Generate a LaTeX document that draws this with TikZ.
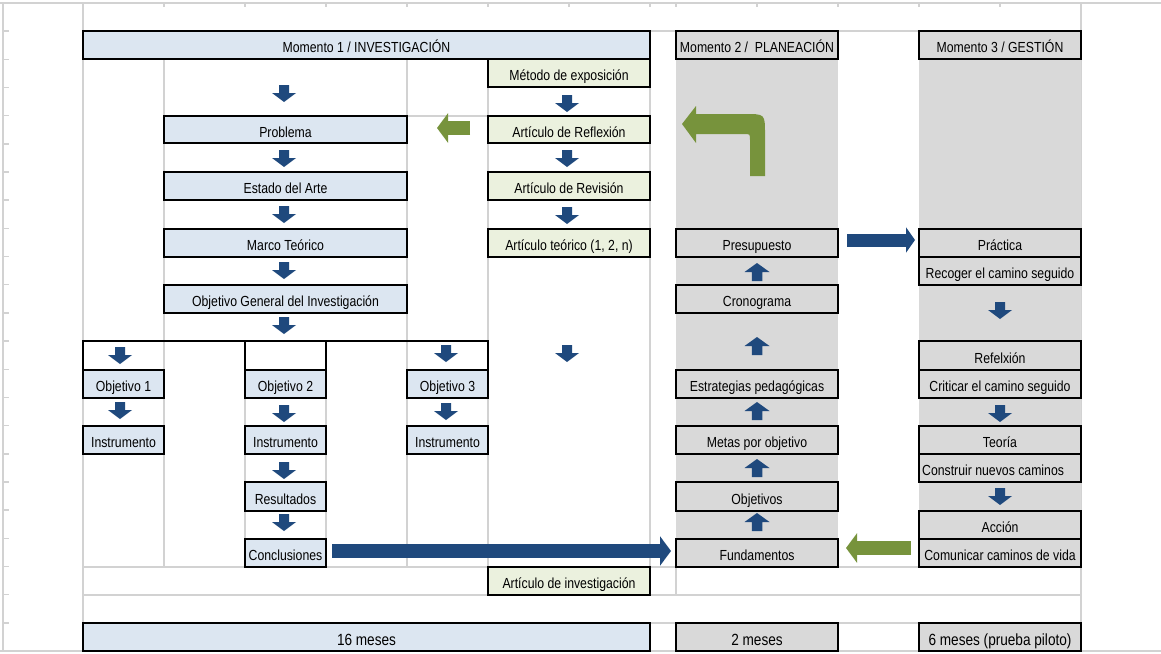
\documentclass[tikz,border=0pt]{standalone}
\usepackage{fontspec}
\setmainfont{Liberation Sans}[FakeStretch=0.84]
\usetikzlibrary{calc,arrows.meta}
\definecolor{lblue}{HTML}{DCE6F1}
\definecolor{lgreen}{HTML}{EBF1DE}
\definecolor{lgrey}{HTML}{D9D9D9}
\definecolor{gridc}{HTML}{D2D2D2}
\definecolor{arrblue}{HTML}{1F497D}
\definecolor{arrgreen}{HTML}{77933C}
\newcommand{\cellat}[7]{\node[#6, anchor=north west, minimum width={#4-#2}, minimum height={#5-#3}] (#1) at (#2,#3) {#7};}
\begin{document}
\begin{tikzpicture}[x=1pt,y=-1pt,
  txt/.style={font=\fontsize{14.6}{16}\selectfont, text=black, text height=15pt, text depth=0pt, inner sep=0pt},
  bigtxt/.style={font=\fontsize{16.2}{18}\selectfont, text height=16pt},
  cellbox/.style={txt, draw=black, line width=2pt, outer sep=0pt},
  bluecell/.style={cellbox, fill=lblue},
  greencell/.style={cellbox, fill=lgreen},
  greycell/.style={cellbox, fill=lgrey},
  gridline/.style={draw=gridc, line width=1.5pt},
  bracket/.style={draw=black, line width=2pt},
  darr/.pic={\fill[arrblue] (-5,0) -- (5,0) -- (5,8) -- (12,8) -- (0,17) -- (-12,8) -- (-5,8) -- cycle;},
  uarr/.pic={\fill[arrblue] (0,0) -- (12.5,9) -- (5.25,9) -- (5.25,18) -- (-5.25,18) -- (-5.25,9) -- (-12.5,9) -- cycle;},
  bluearrow/.style={draw=arrblue, line width=#1},
  greenarrow/.style={draw=arrgreen, line width=14pt, -{Triangle[length=11pt,width=29pt]}}
]
\useasboundingbox (0,0) rectangle (1161,653);
\fill[white] (0,0) rectangle (1161,653);
% spreadsheet grid
\draw[gridline] (0,3) -- (1161,3);
\draw[gridline] (0,651) -- (1161,651);
\draw[gridline] (3,3) -- (3,651);
\draw[gridline] (83,3) -- (83,651);
\draw[gridline] (1081,3) -- (1081,651);
\foreach \k in {0,...,23} \draw[gridline] (3,{3+28.174*\k}) -- (9,{3+28.174*\k});
\foreach \xx in {164,245,326,407,488,569,650,676,757,838,919,1000} \draw[gridline] (\xx,3) -- (\xx,7);
\draw[gridline] (650,31) -- (676,31) (838,31) -- (919,31);
\draw[gridline] (650,623) -- (676,623) (838,623) -- (919,623);
\draw[gridline] (83,567) -- (1081,567);
\draw[gridline] (83,595) -- (1081,595);
\foreach \xx in {164,407,488,650} \draw[gridline] (\xx,59) -- (\xx,567);
\foreach \xx in {245,326} \draw[gridline] (\xx,370) -- (\xx,567);
\draw[gridline] (676,567) -- (676,595);
\draw[gridline] (407,116) -- (488,116);
% grey columns
\fill[lgrey] (676,59) rectangle (838,567);
\fill[lgrey] (919,59) rectangle (1081,567);
% headers
\cellat{m1}{83}{31}{650}{59}{bluecell}{Momento 1 / INVESTIGACIÓN}
\cellat{m2}{676}{31}{838}{59}{greycell}{Momento 2 /\ \ PLANEACIÓN}
\cellat{m3}{919}{31}{1081}{59}{greycell}{Momento 3 / GESTIÓN}
% Momento 1 left column
\cellat{prob}{164}{116}{407}{143}{bluecell}{Problema}
\cellat{est}{164}{172}{407}{200}{bluecell}{Estado del Arte}
\cellat{marco}{164}{229}{407}{257}{bluecell}{Marco Teórico}
\cellat{ogen}{164}{285}{407}{313}{bluecell}{Objetivo General del Investigación}
\draw[bracket] (83,370) -- (83,341) -- (488,341) -- (488,370);
\draw[bracket] (245,370) -- (245,341) (326,341) -- (326,370);
\cellat{ob1}{83}{370}{164}{398}{bluecell}{Objetivo 1}
\cellat{ins1}{83}{426}{164}{454}{bluecell}{Instrumento}
\cellat{ob2}{245}{370}{326}{398}{bluecell}{Objetivo 2}
\cellat{ins2}{245}{426}{326}{454}{bluecell}{Instrumento}
\cellat{res}{245}{482}{326}{511}{bluecell}{Resultados}
\cellat{concl}{245}{539}{326}{567}{bluecell}{Conclusiones}
\cellat{ob3}{407}{370}{488}{398}{bluecell}{Objetivo 3}
\cellat{ins3}{407}{426}{488}{454}{bluecell}{Instrumento}
% articles column
\cellat{metodo}{488}{59}{650}{87}{greencell}{Método de exposición}
\cellat{artref}{488}{116}{650}{143}{greencell}{Artículo de Reflexión}
\cellat{artrev}{488}{172}{650}{200}{greencell}{Artículo de Revisión}
\cellat{artteo}{488}{229}{650}{257}{greencell}{Artículo teórico (1, 2, n)}
\cellat{artinv}{488}{567}{650}{595}{greencell}{Artículo de investigación}
% Momento 2
\cellat{presup}{676}{229}{838}{257}{greycell}{Presupuesto}
\cellat{crono}{676}{285}{838}{313}{greycell}{Cronograma}
\cellat{estrat}{676}{370}{838}{398}{greycell}{Estrategias pedagógicas}
\cellat{metas}{676}{426}{838}{454}{greycell}{Metas por objetivo}
\cellat{objs}{676}{482}{838}{511}{greycell}{Objetivos}
\cellat{fund}{676}{539}{838}{567}{greycell}{Fundamentos}
% Momento 3
\cellat{prac}{919}{229}{1081}{257}{greycell}{Práctica}
\cellat{recog}{919}{257}{1081}{285}{greycell}{Recoger el camino seguido}
\cellat{refl}{919}{341}{1081}{370}{greycell}{Refelxión}
\cellat{crit}{919}{370}{1081}{398}{greycell}{Criticar el camino seguido}
\cellat{teor}{919}{426}{1081}{454}{greycell}{Teoría}
\cellat{constr}{919}{454}{1081}{482}{greycell}{}
\node[txt, anchor=west] (constrtxt) at ($(constr.west)+(3,0)$) {Construir nuevos caminos};
\cellat{accion}{919}{511}{1081}{539}{greycell}{Acción}
\cellat{comun}{919}{539}{1081}{567}{greycell}{Comunicar caminos de vida}
% bottom durations
\cellat{d16}{83}{623}{650}{651}{bluecell,bigtxt}{16 meses}
\cellat{d2}{676}{623}{838}{651}{greycell,bigtxt}{2 meses}
\cellat{d6}{919}{623}{1081}{651}{greycell,bigtxt}{6 meses (prueba piloto)}
% small down arrows
\foreach \yy in {85,150,206,262,317} \pic at (284,\yy) {darr};
\foreach \yy in {95,150,207,345} \pic at (567,\yy) {darr};
\foreach \yy in {347,402} \pic at (120,\yy) {darr};
\foreach \yy in {405,462,514} \pic at (284,\yy) {darr};
\foreach \yy in {345,403} \pic at (446,\yy) {darr};
\foreach \yy in {302,405,488} \pic at (1000,\yy) {darr};
% small up arrows
\foreach \yy in {263,337,402,459,513} \pic at (757,\yy) {uarr};
% big blue arrows
\draw[bluearrow=14pt, -{Triangle[length=11pt,width=29pt]}] ($(concl.east)+(6,-2)$) -- ($(fund.west)+(-5,-2)$);
\draw[bluearrow=13pt, -{Triangle[length=9pt,width=25pt]}] ($(presup.east)+(9,-3)$) -- ($(prac.west)+(-4,-3)$);
% green arrows
\draw[greenarrow] ($(artref.west)+(-18,-1.5)$) -- ($(prob.east)+(30,-1.5)$);
\draw[greenarrow] ($(comun.west)+(-8,-5)$) -- ($(fund.east)+(8,-5)$);
\fill[arrgreen] (750,176) -- (750,140) .. controls (750,134) .. (744,134) -- (696,134) -- (696,143) -- (682,124) -- (696,106) -- (696,114) -- (745,114) .. controls (765,114) .. (765,134) -- (765,176) -- cycle;
\end{tikzpicture}
\end{document}
